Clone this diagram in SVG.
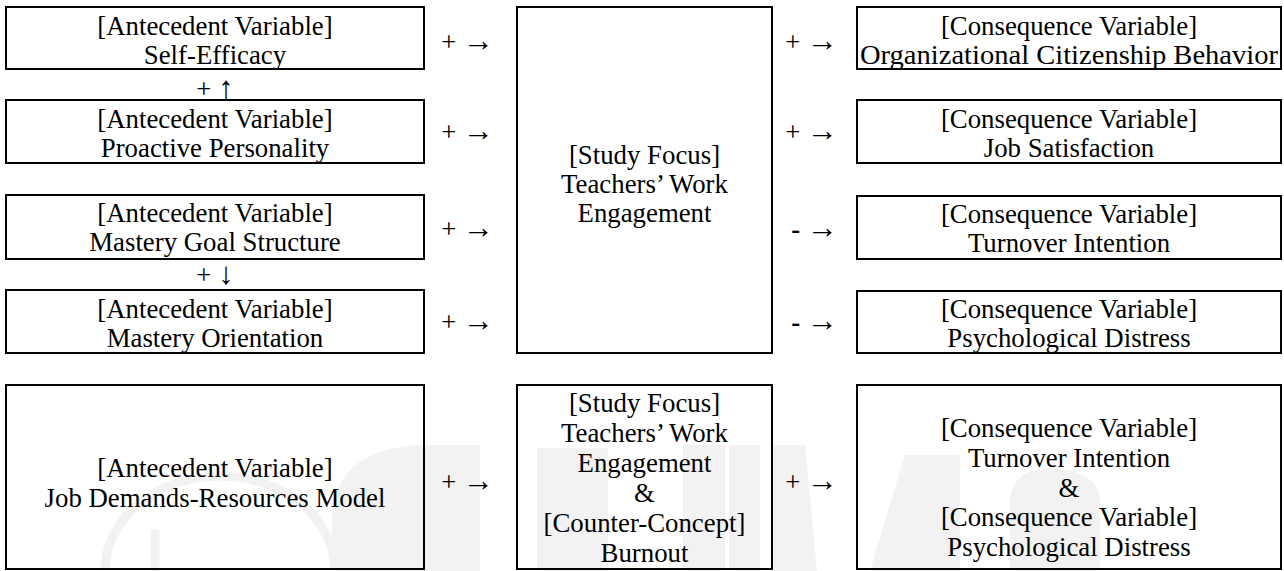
<svg xmlns="http://www.w3.org/2000/svg" width="1284" height="571" viewBox="0 0 1284 571">
  <style>
    .box { fill: none; stroke: #000; stroke-width: 2; }
    text { font-family: "Liberation Serif", "Times New Roman", Tinos, serif; font-size: 26.8px; fill: #000; }
    .c { text-anchor: middle; }
    .e { text-anchor: end; }
    .neg { font-weight: bold; }
    .arr { font-size: 31px; }
    .wm { fill: #f2f2f2; }
    .wml { fill: none; stroke: #f2f2f2; stroke-width: 9; }
  </style>
  <rect width="1284" height="571" fill="#fff"/>

  <!-- faint background emblem -->
  <g id="watermark">
    <path class="wml" d="M105,571 A115,95 0 0 1 335,571"/>
    <path class="wml" d="M155,571 L155,530"/>
    <path class="wm" d="M332,571 L332,515 Q338,448 420,445 L480,445 L480,571 Z"/>
    <rect class="wm" x="537" y="448" width="71" height="123"/>
    <rect class="wm" x="683" y="445" width="42" height="126"/>
    <rect class="wm" x="729" y="445" width="31" height="126"/>
    <path class="wm" d="M773,445 L805,445 L817,571 L773,571 Z"/>
    <path class="wm" d="M870,571 L905,455 L960,455 L960,571 Z"/>
    <path class="wm" d="M1010,571 L1010,500 Q1012,470 1050,468 Q1098,470 1100,500 L1100,571 Z"/>
  </g>

  <!-- relation labels drawn as text arrows -->
  <g id="connectors">
    <text class="e" x="494" y="51">+ <tspan class="arr">→</tspan></text>
    <text class="e" x="494" y="141">+ <tspan class="arr">→</tspan></text>
    <text class="e" x="494" y="238">+ <tspan class="arr">→</tspan></text>
    <text class="e" x="494" y="331">+ <tspan class="arr">→</tspan></text>
    <text class="e" x="838" y="51">+ <tspan class="arr">→</tspan></text>
    <text class="e" x="838" y="141">+ <tspan class="arr">→</tspan></text>
    <text class="e" x="838" y="238"><tspan class="neg">-</tspan> <tspan class="arr">→</tspan></text>
    <text class="e" x="838" y="331"><tspan class="neg">-</tspan> <tspan class="arr">→</tspan></text>
    <text class="c" x="215" y="98">+ <tspan class="arr">↑</tspan></text>
    <text class="c" x="215" y="284">+ <tspan class="arr">↓</tspan></text>
    <text class="e" x="494" y="491">+ <tspan class="arr">→</tspan></text>
    <text class="e" x="838" y="491">+ <tspan class="arr">→</tspan></text>
  </g>

  <!-- antecedents -->
  <g id="self-efficacy">
    <rect class="box" x="6" y="7" width="418" height="62"/>
    <text class="c" x="215" y="35">[Antecedent Variable]</text>
    <text class="c" x="215" y="64">Self-Efficacy</text>
  </g>
  <g id="proactive-personality">
    <rect class="box" x="6" y="100" width="418" height="63"/>
    <text class="c" x="215" y="128">[Antecedent Variable]</text>
    <text class="c" x="215" y="157">Proactive Personality</text>
  </g>
  <g id="mastery-goal-structure">
    <rect class="box" x="6" y="195" width="418" height="64"/>
    <text class="c" x="215" y="222">[Antecedent Variable]</text>
    <text class="c" x="215" y="251">Mastery Goal Structure</text>
  </g>
  <g id="mastery-orientation">
    <rect class="box" x="6" y="290" width="418" height="63"/>
    <text class="c" x="215" y="318">[Antecedent Variable]</text>
    <text class="c" x="215" y="347">Mastery Orientation</text>
  </g>

  <!-- study focus -->
  <g id="work-engagement">
    <rect class="box" x="517" y="7" width="255" height="346"/>
    <text class="c" x="644.5" y="164">[Study Focus]</text>
    <text class="c" x="644.5" y="193">Teachers’ Work</text>
    <text class="c" x="644.5" y="222">Engagement</text>
  </g>

  <!-- consequences -->
  <g id="ocb">
    <rect class="box" x="857" y="7" width="424" height="62"/>
    <text class="c" x="1069" y="35">[Consequence Variable]</text>
    <text class="c" x="1069" y="64" textLength="418" lengthAdjust="spacingAndGlyphs">Organizational Citizenship Behavior</text>
  </g>
  <g id="job-satisfaction">
    <rect class="box" x="857" y="100" width="424" height="63"/>
    <text class="c" x="1069" y="128">[Consequence Variable]</text>
    <text class="c" x="1069" y="157">Job Satisfaction</text>
  </g>
  <g id="turnover-intention">
    <rect class="box" x="857" y="196" width="424" height="63"/>
    <text class="c" x="1069" y="223">[Consequence Variable]</text>
    <text class="c" x="1069" y="252">Turnover Intention</text>
  </g>
  <g id="psychological-distress">
    <rect class="box" x="857" y="291" width="424" height="62"/>
    <text class="c" x="1069" y="318">[Consequence Variable]</text>
    <text class="c" x="1069" y="347">Psychological Distress</text>
  </g>

  <!-- JD-R row -->
  <g id="jdr-model">
    <rect class="box" x="6" y="385" width="418" height="184"/>
    <text class="c" x="215" y="477">[Antecedent Variable]</text>
    <text class="c" x="215" y="507">Job Demands-Resources Model</text>
  </g>
  <g id="engagement-burnout">
    <rect class="box" x="517" y="385" width="255" height="184"/>
    <text class="c" x="644.5" y="412">[Study Focus]</text>
    <text class="c" x="644.5" y="442">Teachers’ Work</text>
    <text class="c" x="644.5" y="472">Engagement</text>
    <text class="c" x="644.5" y="502">&amp;</text>
    <text class="c" x="644.5" y="532">[Counter-Concept]</text>
    <text class="c" x="644.5" y="562">Burnout</text>
  </g>
  <g id="turnover-distress">
    <rect class="box" x="857" y="385" width="424" height="184"/>
    <text class="c" x="1069" y="437">[Consequence Variable]</text>
    <text class="c" x="1069" y="467">Turnover Intention</text>
    <text class="c" x="1069" y="497">&amp;</text>
    <text class="c" x="1069" y="526">[Consequence Variable]</text>
    <text class="c" x="1069" y="556">Psychological Distress</text>
  </g>
</svg>
